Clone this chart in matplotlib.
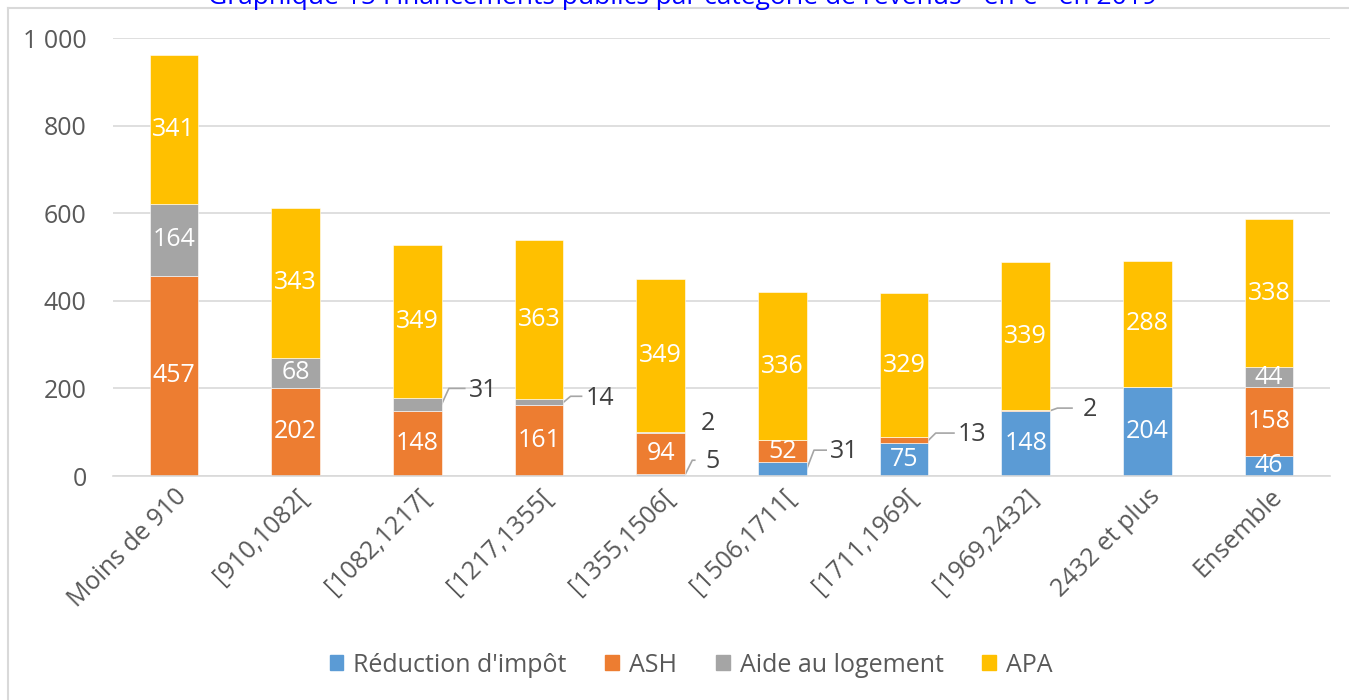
import numpy as np
import matplotlib.pyplot as plt
from matplotlib.patches import Patch

plt.rcParams['font.family'] = ['Open Sans', 'DejaVu Sans']

categories = ['Moins de 910', '[910,1082[', '[1082,1217[', '[1217,1355[', '[1355,1506[',
              '[1506,1711[', '[1711,1969[', '[1969,2432]', '2432 et plus', 'Ensemble']
series_names = ["Réduction d'impôt", 'ASH', 'Aide au logement', 'APA']
reduction = [0, 0, 0, 0, 5, 31, 75, 148, 204, 46]
ash = [457, 202, 148, 161, 94, 52, 13, 2, 0, 158]
aide_logement = [164, 68, 31, 14, 2, 0, 0, 0, 0, 44]
apa = [341, 343, 349, 363, 349, 336, 329, 339, 288, 338]
colors = ['#5B9BD5', '#ED7D31', '#A5A5A5', '#FFC000']

# small values written outside the bar: (series index, category index, label x, label y, leader?)
outside = [(2, 2, 2.54, 196, True), (2, 3, 3.50, 178, True), (2, 4, 4.39, 121, False),
           (0, 4, 4.43, 32, True), (0, 5, 5.51, 55, True), (1, 6, 6.56, 94, True),
           (1, 7, 7.53, 151, True)]

data = np.array([reduction, ash, aide_logement, apa], dtype=float)
x = np.arange(len(categories))
w = 0.4

fig = plt.figure(figsize=(13.49, 7.0), dpi=100)
ax = fig.add_axes([113/1349, 1-476/700, 1217/1349, 438/700])

bottom = np.zeros(len(categories))
out_keys = {(s, c) for s, c, *_ in outside}
for s in range(4):
    ax.bar(x, data[s], w, bottom=bottom, color=colors[s], edgecolor='white', linewidth=0.4, zorder=2)
    for c in range(len(categories)):
        v = data[s, c]
        if v > 0 and (s, c) not in out_keys:
            ax.text(x[c], bottom[c] + v/2, f'{int(v)}', ha='center', va='center',
                    color='white', fontsize=18, zorder=3)
    bottom += data[s]

cum = np.cumsum(data, axis=0)
for s, c, lx, ly, lead in outside:
    v = data[s, c]
    mid = cum[s, c] - v/2
    ax.text(lx, ly, f'{int(v)}', ha='center', va='center', color='#404040', fontsize=18)
    if lead:
        x0 = x[c] + w/2
        ax.plot([x0, x0 + 0.06, lx - 0.15], [mid, ly + 4, ly + 4], color='#A6A6A6', lw=1.2, zorder=1)

ax.set_xlim(-0.5, len(categories) - 0.5)
ax.set_ylim(0, 1000)
ax.set_yticks(range(0, 1001, 200))
ax.set_yticklabels(['0', '200', '400', '600', '800', '1 000'])
ax.yaxis.grid(True, color='#D9D9D9', lw=1.2)
ax.set_axisbelow(True)
for sp in ['top', 'right', 'left']:
    ax.spines[sp].set_visible(False)
ax.spines['bottom'].set_color('#D9D9D9')
ax.spines['bottom'].set_linewidth(1.2)
ax.tick_params(axis='both', length=0, labelsize=18, colors='#595959')
ax.tick_params(axis='y', pad=19)
ax.tick_params(axis='x', pad=6)
ax.set_xticks(x)
ax.set_xticklabels(categories, rotation=45, ha='right', rotation_mode='anchor')

handles = [Patch(color=colors[i], label=series_names[i]) for i in range(4)]
fig.legend(handles=handles, loc='center', bbox_to_anchor=(691/1349, 1-665/700), ncol=4,
           frameon=False, fontsize=18, handlelength=0.55, handleheight=0.55,
           columnspacing=1.55, handletextpad=0.4, labelcolor='#595959')

# frame of the chart area
fig.add_artist(plt.Line2D([8/1349, 1], [1-8/700, 1-8/700], color='#D9D9D9', lw=1.5))
fig.add_artist(plt.Line2D([8/1349, 8/1349], [0, 1-8/700], color='#D9D9D9', lw=1.5))

fig.text(682/1349, 1-4/700, 'Graphique 15 Financements publics par catégorie de revenus - en € - en 2019',
         ha='center', va='baseline', color='#0000FF', fontsize=19)

fig.savefig('out.png', dpi=100)
